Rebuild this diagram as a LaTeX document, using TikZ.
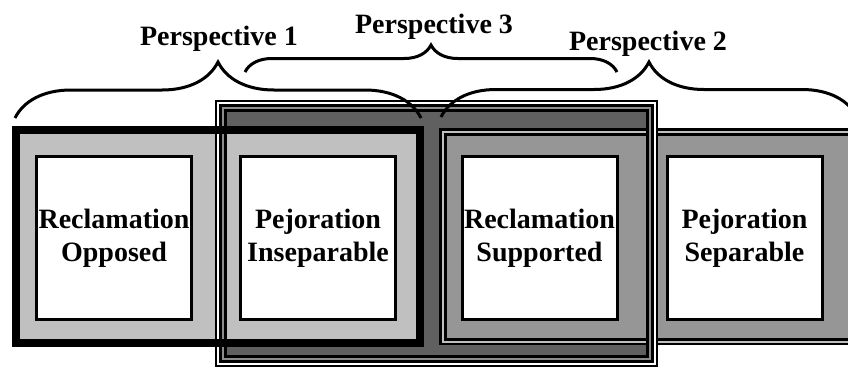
\documentclass[tikz,border=0pt]{standalone}
\usepackage{fontspec}
\setmainfont{Liberation Serif}
\usetikzlibrary{positioning,decorations.pathreplacing}

\definecolor{lightfill}{HTML}{C0C0C0}
\definecolor{midfill}{HTML}{969696}
\definecolor{darkfill}{HTML}{606060}
\definecolor{rimgray}{HTML}{8C8C8C}

\tikzset{
  inbox/.style={draw, line width=3pt, fill=white, minimum width=155pt,
    minimum height=163pt, inner sep=0pt, align=center,
    execute at begin node=\rule{0pt}{30pt},
    font=\fontsize{28}{33}\selectfont\bfseries},
  persp/.style={anchor=base, font=\fontsize{28}{33}\selectfont\bfseries},
  bracket/.style={decorate, decoration={brace, amplitude=#1}, line width=3pt}
}

\begin{document}
\begin{tikzpicture}[x=1pt, y=-1pt, node distance=204pt, on grid]
  \useasboundingbox (0,0) rectangle (848,368);
  \clip (0,0) rectangle (848,368);

  % region fills
  \fill[darkfill] (227,112) rectangle (646,355);
  \fill[lightfill] (12,126) rectangle (424,347);
  \fill[midfill] (439,128) rectangle (870,345);

  % region rims
  \foreach \d/\w/\c in {1.25/2.5/black, 3.5/2/lightfill, 6/3/black}
    \draw[\c, line width=\w pt] (439+\d,128+\d) rectangle (870-\d,345-\d);
  \foreach \d/\w/\c in {1/2/black, 3/2/white, 5.5/3/black, 8/2/rimgray, 10.5/3/black}
    \draw[\c, line width=\w pt] (215+\d,100+\d) rectangle (658-\d,367-\d);
  \draw[line width=8pt] (16,130) rectangle (420,343);

  \node[inbox] (ro) at (114,238) {Reclamation\\Opposed};
  \node[inbox, right=of ro] (pi) {Pejoration\\Inseparable};
  \node[inbox, right=221.5pt of pi] (rs) {Reclamation\\Supported};
  \node[inbox, right=205pt of rs] (ps) {Pejoration\\Separable};

  % braces
  \coordinate (b1l) at (15,118);
  \coordinate (b1r) at (421,118);
  \coordinate (b3l) at (245,72);
  \coordinate (b3r) at (617,72);
  \coordinate (b2l) at (441,117);
  \coordinate (b2r) at (857,117);
  \draw[bracket=56pt] (b1l) -- (b1r);
  \draw[bracket=27pt] (b3l) -- (b3r);
  \draw[bracket=55pt] (b2l) -- (b2r);

  \node[persp] (p1) at (219,45) {Perspective 1};
  \node[persp] (p3) at (434,33) {Perspective 3};
  \node[persp] (p2) at (648,50) {Perspective 2};
\end{tikzpicture}
\end{document}
